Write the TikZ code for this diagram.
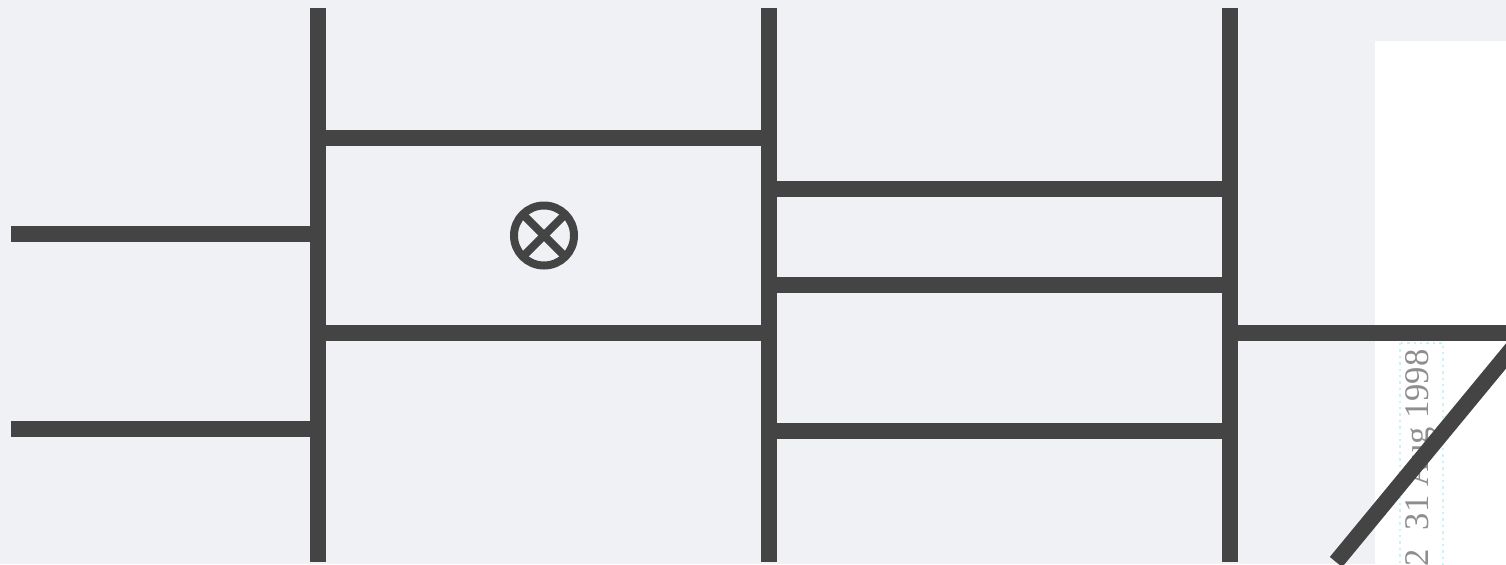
\documentclass[tikz,border=0pt]{standalone}
\usepackage{fontspec}
\setmainfont{Liberation Serif}
\definecolor{bgpage}{HTML}{EFF1F5}
\definecolor{ink}{HTML}{444444}
\definecolor{stamp}{HTML}{8E8E8E}
\definecolor{stampbox}{HTML}{C4F4F8}
\tikzset{
  wire/.style={draw=ink,line width=8pt,line cap=butt},
  sym/.style={circle,draw=ink,line width=4pt,minimum size=30pt,inner sep=0pt,outer sep=0pt},
  symline/.style={draw=ink,line width=4pt},
  stamptext/.style={text=stamp,font=\fontsize{17.3pt}{20pt}\selectfont,rotate=90,inner sep=0pt,anchor=east}
}
\begin{document}
\begin{tikzpicture}[x=0.5pt,y=-0.5pt]
\useasboundingbox (0,0) rectangle (1506,564);
\clip (0,0) rectangle (1506,564);
\fill[bgpage] (0,0) rectangle (1506,564);
\fill[white] (1375,41) rectangle (1506,564);
\draw[stampbox,line width=1.2pt,dotted] (1400,343) rectangle (1443,580);
\node[stamptext] (date) at (1421,349) {2\hspace{0.55em}31 Aug 1998};
% coordinates
\coordinate (a1) at (318,8);   \coordinate (a2) at (318,562);
\coordinate (b1) at (769,8);   \coordinate (b2) at (769,562);
\coordinate (c1) at (1230,8);  \coordinate (c2) at (1230,562);
\coordinate (in1) at (11,234); \coordinate (in1e) at (318,234);
\coordinate (in2) at (11,429); \coordinate (in2e) at (318,429);
\coordinate (p1l) at (318,138); \coordinate (p1r) at (769,138);
\coordinate (p2l) at (318,333); \coordinate (p2r) at (769,333);
\coordinate (q1l) at (769,189); \coordinate (q1r) at (1230,189);
\coordinate (q2l) at (769,285); \coordinate (q2r) at (1230,285);
\coordinate (q3l) at (769,431); \coordinate (q3r) at (1230,431);
\coordinate (o1) at (1230,333); \coordinate (o2) at (1506,333);
\coordinate (d1) at (1520,339); \coordinate (d2) at (1336,562);
% wires
\draw[wire] (a1) -- (a2);
\draw[wire] (b1) -- (b2);
\draw[wire] (c1) -- (c2);
\draw[wire] (in1) -- (in1e);
\draw[wire] (in2) -- (in2e);
\draw[wire] (p1l) -- (p1r);
\draw[wire] (p2l) -- (p2r);
\draw[wire] (q1l) -- (q1r);
\draw[wire] (q2l) -- (q2r);
\draw[wire] (q3l) -- (q3r);
\draw[wire] (o1) -- (o2);
\draw[wire] (d1) -- (d2);
% tensor symbol
\node[sym] (tensor) at (544,235.5) {};
\draw[symline] (tensor.45) -- (tensor.225);
\draw[symline] (tensor.135) -- (tensor.315);
\end{tikzpicture}
\end{document}
